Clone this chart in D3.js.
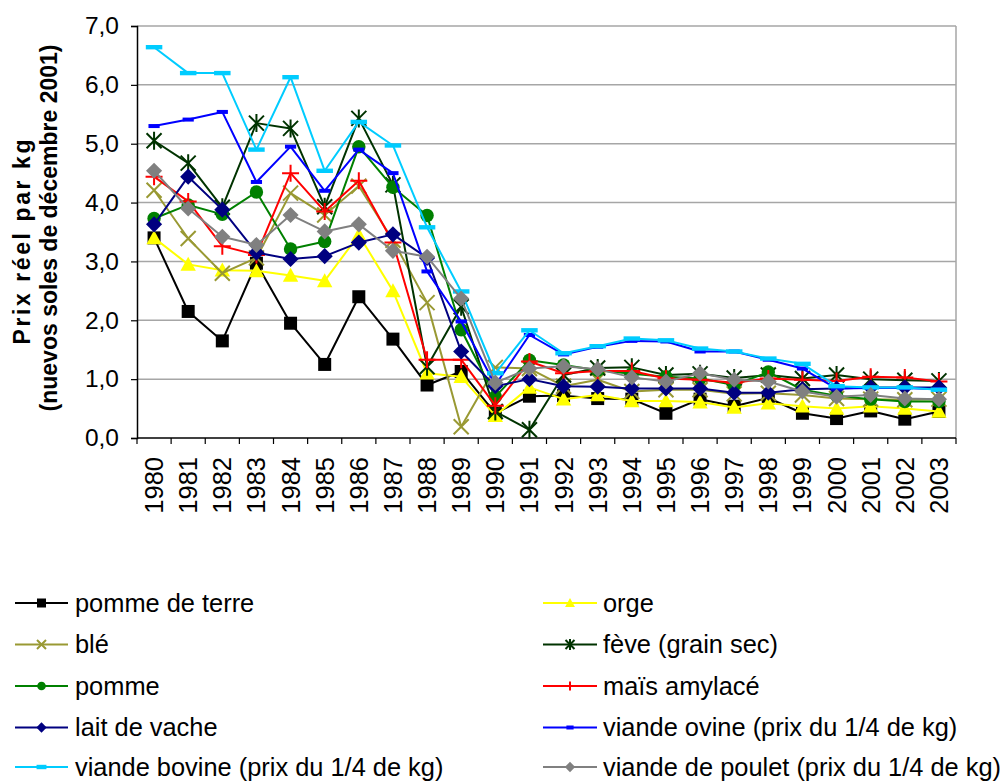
<!DOCTYPE html>
<html>
<head>
<meta charset="utf-8">
<script src="https://cdn.jsdelivr.net/npm/d3@7"></script>
<style>
  html, body { margin: 0; padding: 0; background: #fff; }
  svg { display: block; font-family: "Liberation Sans", Arial, sans-serif; }
</style>
</head>
<body>
<svg id="chart" width="1008" height="783"></svg>
<script>
// Years on the category axis
const years = ["1980","1981","1982","1983","1984","1985","1986","1987","1988","1989","1990","1991",
               "1992","1993","1994","1995","1996","1997","1998","1999","2000","2001","2002","2003"];
const yTicks = [0, 1, 2, 3, 4, 5, 6, 7];

// Real prices per kg (nuevos soles of December 2001)
const pommeDeTerre = [3.40, 2.15, 1.65, 2.97, 1.95, 1.25, 2.40, 1.68, 0.90, 1.13, 0.42, 0.71, 0.72, 0.67, 0.66, 0.42, 0.66, 0.54, 0.68, 0.42, 0.33, 0.46, 0.32, 0.45];
const orge         = [3.40, 2.95, 2.85, 2.84, 2.76, 2.67, 3.45, 2.50, 1.10, 1.04, 0.38, 0.86, 0.66, 0.73, 0.63, 0.63, 0.61, 0.52, 0.59, 0.54, 0.50, 0.54, 0.50, 0.45];
const ble          = [4.21, 3.39, 2.80, 3.06, 4.16, 3.79, 4.28, 3.36, 2.30, 0.19, 1.20, 1.18, 0.88, 0.99, 0.79, 0.82, 0.82, 0.75, 0.76, 0.73, 0.67, 0.66, 0.65, 0.66];
const feve         = [5.05, 4.67, 3.92, 5.35, 5.26, 3.93, 5.43, 4.30, 1.21, 2.23, 0.45, 0.14, 1.07, 1.19, 1.20, 1.07, 1.09, 1.02, 1.07, 1.01, 1.07, 1.00, 0.98, 0.97];
const pomme        = [3.73, 3.96, 3.80, 4.18, 3.21, 3.34, 4.95, 4.26, 3.78, 1.84, 0.70, 1.32, 1.24, 1.15, 1.09, 1.04, 1.01, 0.90, 1.12, 0.82, 0.72, 0.66, 0.62, 0.62];
const maisAmylace  = [4.44, 4.02, 3.26, 3.11, 4.50, 3.85, 4.37, 3.32, 1.33, 1.33, 0.55, 1.30, 1.10, 1.14, 1.14, 1.01, 0.99, 0.94, 1.01, 0.99, 0.97, 1.04, 1.03, 0.96];
const laitDeVache  = [3.63, 4.44, 3.88, 3.15, 3.04, 3.09, 3.32, 3.46, 3.06, 1.47, 0.88, 1.00, 0.88, 0.87, 0.84, 0.84, 0.84, 0.77, 0.77, 0.83, 0.84, 0.86, 0.86, 0.86];
const viandeOvine  = [5.30, 5.41, 5.54, 4.35, 4.95, 4.20, 4.90, 4.50, 2.83, 1.98, 0.90, 1.75, 1.42, 1.55, 1.65, 1.64, 1.47, 1.47, 1.33, 1.18, 0.84, 0.85, 0.85, 0.83];
const viandeBovine = [6.64, 6.20, 6.20, 4.90, 6.13, 4.54, 5.37, 4.97, 3.58, 2.49, 1.10, 1.83, 1.44, 1.56, 1.69, 1.66, 1.52, 1.47, 1.35, 1.26, 0.88, 0.86, 0.86, 0.82];
const viandePoulet = [4.54, 3.90, 3.42, 3.28, 3.79, 3.51, 3.63, 3.18, 3.08, 2.37, 0.94, 1.18, 1.22, 1.17, 1.03, 0.96, 1.10, 0.99, 0.96, 0.79, 0.70, 0.73, 0.67, 0.66];

const seriesNames = ["pomme de terre", "orge", "blé", "fève (grain sec)", "pomme", "maïs amylacé",
                     "lait de vache", "viande ovine (prix du 1/4 de kg)", "viande bovine (prix du 1/4 de kg)",
                     "viande de poulet (prix du 1/4 de kg)"];
const seriesValues = [pommeDeTerre, orge, ble, feve, pomme, maisAmylace, laitDeVache, viandeOvine, viandeBovine, viandePoulet];
const seriesColors = ["#000000", "#ffff00", "#999933", "#003300", "#008000", "#ff0000", "#000080", "#0000ff", "#00ccff", "#808080"];
const seriesMarkers = ["square", "triangle", "x", "star", "circle", "plus", "diamond", "dash", "dashWide", "diamond"];

const svg = d3.select("#chart");

const plot = { left: 137, right: 956, top: 26, bottom: 438 };
const x = d3.scaleBand().domain(years).range([plot.left, plot.right]).padding(0);
const y = d3.scaleLinear().domain([0, 7]).range([plot.bottom, plot.top]);

// Horizontal gridlines
svg.append("g").selectAll("line").data(yTicks.filter(t => t > 0)).join("line")
  .attr("x1", plot.left).attr("x2", plot.right)
  .attr("y1", d => y(d)).attr("y2", d => y(d))
  .attr("stroke", "#a6a6a6").attr("stroke-width", 1.5);

// Right border of the plot area
svg.append("line")
  .attr("x1", plot.right).attr("x2", plot.right).attr("y1", plot.top).attr("y2", plot.bottom)
  .attr("stroke", "#a6a6a6").attr("stroke-width", 1.5);

// Y axis
const fmt = d => d3.format(".1f")(d).replace(".", ",");
const yAxis = svg.append("g")
  .attr("transform", `translate(${plot.left},0)`)
  .call(d3.axisLeft(y).tickValues(yTicks).tickFormat(fmt).tickSize(6).tickPadding(12));
yAxis.select(".domain").attr("stroke", "#000").attr("stroke-width", 1.5);
yAxis.selectAll(".tick line").attr("stroke", "#000").attr("stroke-width", 1.2);
yAxis.selectAll(".tick text").attr("font-size", 24.5).attr("fill", "#000")
  .attr("font-family", "Liberation Sans, Arial, sans-serif");

// X axis: ticks at category boundaries, labels rotated
const xg = svg.append("g");
xg.append("line").attr("x1", plot.left).attr("x2", plot.right)
  .attr("y1", plot.bottom).attr("y2", plot.bottom).attr("stroke", "#000").attr("stroke-width", 1.5);
xg.selectAll("line.tk").data(years.concat(["end"])).join("line").attr("class", "tk")
  .attr("x1", (d, i) => plot.left + i * x.bandwidth())
  .attr("x2", (d, i) => plot.left + i * x.bandwidth())
  .attr("y1", plot.bottom).attr("y2", plot.bottom + 6)
  .attr("stroke", "#000").attr("stroke-width", 1.2);
xg.selectAll("text").data(years).join("text")
  .attr("transform", d => `translate(${x(d) + x.bandwidth() / 2},${plot.bottom + 19}) rotate(-90)`)
  .attr("text-anchor", "end").attr("dy", "0.35em")
  .attr("font-size", 25.5).attr("fill", "#000").text(d => d);

// Y axis title
const title = svg.append("g").attr("font-weight", "bold").attr("font-size", 23).attr("fill", "#000");
title.append("text").attr("transform", "translate(30,242) rotate(-90)").attr("text-anchor", "middle")
  .attr("textLength", 205).attr("lengthAdjust", "spacing").text("Prix réel par kg");
title.append("text").attr("transform", "translate(57,228) rotate(-90)").attr("text-anchor", "middle").text("(nuevos soles de décembre 2001)");

// Marker shapes
function markerPath(type, s) {
  const h = s / 2;
  switch (type) {
    case "square": return `M${-h},${-h}H${h}V${h}H${-h}Z`;
    case "triangle": return `M0,${-h * 1.1}L${h * 1.1},${h * 0.9}L${-h * 1.1},${h * 0.9}Z`;
    case "diamond": return `M0,${-h * 1.15}L${h * 1.15},0L0,${h * 1.15}L${-h * 1.15},0Z`;
    case "x": return `M${-h},${-h}L${h},${h}M${-h},${h}L${h},${-h}`;
    case "plus": return `M${-h},0H${h}M0,${-h}V${h}`;
    case "star": return `M${-h},${-h}L${h},${h}M${-h},${h}L${h},${-h}M0,${-h * 1.2}V${h * 1.2}`;
    case "dash": return `M${-h * 0.8},${-2}H${h * 0.8}V${2}H${-h * 0.8}Z`;
    case "dashWide": return `M${-h * 1.1},${-2.2}H${h * 1.1}V${2.2}H${-h * 1.1}Z`;
  }
  return "";
}
function drawMarker(g, type, color, s) {
  if (type === "circle") {
    g.append("circle").attr("r", s * 0.48).attr("fill", color);
  } else if (type === "x" || type === "plus" || type === "star") {
    g.append("path").attr("d", markerPath(type, s)).attr("fill", "none").attr("stroke", color).attr("stroke-width", 2);
  } else {
    g.append("path").attr("d", markerPath(type, s)).attr("fill", color);
  }
}
const markerSize = { square: 13, triangle: 14, x: 15, star: 15, circle: 14, plus: 17, diamond: 14, dash: 14, dashWide: 15 };

// Series lines and markers
const line = d3.line().x((d, i) => x(years[i]) + x.bandwidth() / 2).y(d => y(d));
const seriesG = svg.append("g");
seriesValues.forEach((vals, k) => {
  const g = seriesG.append("g");
  g.append("path").attr("d", line(vals)).attr("fill", "none")
    .attr("stroke", seriesColors[k]).attr("stroke-width", 2).attr("stroke-linejoin", "round");
  vals.forEach((v, i) => {
    const m = g.append("g").attr("transform", `translate(${x(years[i]) + x.bandwidth() / 2},${y(v)})`);
    drawMarker(m, seriesMarkers[k], seriesColors[k], markerSize[seriesMarkers[k]]);
  });
});

// Legend in two columns
const legendCols = [{ x0: 15, x1: 68, tx: 75 }, { x0: 543, x1: 597, tx: 603 }];
const legendRowY = [603, 644.5, 686, 727.5, 767];
const legend = svg.append("g");
seriesNames.forEach((name, k) => {
  const col = legendCols[k % 2];
  const yy = legendRowY[Math.floor(k / 2)];
  const g = legend.append("g");
  g.append("line").attr("x1", col.x0).attr("x2", col.x1).attr("y1", yy).attr("y2", yy)
    .attr("stroke", seriesColors[k]).attr("stroke-width", 2);
  const m = g.append("g").attr("transform", `translate(${(col.x0 + col.x1) / 2},${yy})`);
  drawMarker(m, seriesMarkers[k], seriesColors[k], 9);
  g.append("text").attr("x", col.tx).attr("y", yy).attr("dy", "0.35em")
    .attr("font-size", 25.4).attr("fill", "#000").text(name);
});
</script>
</body>
</html>
